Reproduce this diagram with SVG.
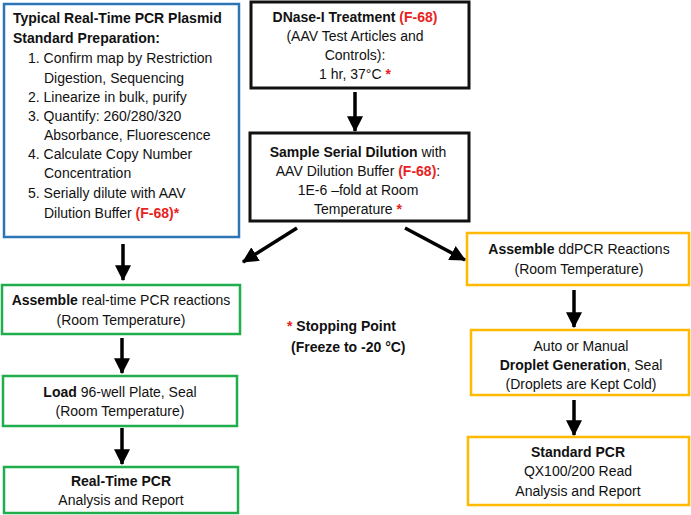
<svg xmlns="http://www.w3.org/2000/svg" width="691" height="515" viewBox="0 0 691 515">
<defs>
<style>
text{font-family:"Liberation Sans",Arial,sans-serif;font-size:14px;fill:#111}
.c{text-anchor:middle}
.b{font-weight:bold}
.r{fill:#E8231E;font-weight:bold}
.box{fill:#fff}
.blue{stroke:#2E75B6;stroke-width:2.5}
.blk{stroke:#111;stroke-width:3}
.grn{stroke:#1FAE4B;stroke-width:2.5}
.yel{stroke:#FFB900;stroke-width:2.5}
.arr{stroke:#000;stroke-width:3.5;fill:none;marker-end:url(#ah)}
</style>
<marker id="ah" markerUnits="userSpaceOnUse" markerWidth="16" markerHeight="16" refX="13" refY="7" orient="auto" viewBox="0 0 14 14">
<path d="M0,0 L14,7 L0,14 Z" fill="#000"/>
</marker>
</defs>
<rect width="691" height="515" fill="#fff"/>

<g id="connectors">
<line class="arr" x1="355" y1="92" x2="355" y2="131"/>
<line class="arr" x1="123" y1="244" x2="123" y2="280"/>
<line class="arr" x1="122" y1="338" x2="122" y2="373"/>
<line class="arr" x1="122" y1="428" x2="122" y2="464"/>
<line class="arr" x1="297" y1="228" x2="243" y2="262"/>
<line class="arr" x1="405" y1="228" x2="465" y2="260"/>
<line class="arr" x1="574" y1="290" x2="574" y2="327"/>
<line class="arr" x1="574" y1="400" x2="574" y2="435"/>
</g>

<g id="plasmid">
<rect class="box blue" x="4" y="4" width="235" height="233"/>
<text class="b" x="13" y="23">Typical Real-Time PCR Plasmid</text>
<text class="b" x="13" y="43">Standard Preparation:</text>
<text x="28" y="63">1. Confirm map by Restriction</text>
<text x="44" y="83">Digestion, Sequencing</text>
<text x="28" y="102">2. Linearize in bulk, purify</text>
<text x="28" y="121">3. Quantify: 260/280/320</text>
<text x="44" y="140">Absorbance, Fluorescence</text>
<text x="28" y="159">4. Calculate Copy Number</text>
<text x="44" y="178">Concentration</text>
<text x="28" y="198">5. Serially dilute with AAV</text>
<text x="44" y="218">Dilution Buffer <tspan class="r">(F-68)*</tspan></text>
</g>

<g id="dnase">
<rect class="box blk" x="251" y="2" width="218" height="86"/>
<text class="c" x="355" y="22"><tspan class="b">DNase-I Treatment</tspan> <tspan class="r">(F-68)</tspan></text>
<text class="c" x="355" y="41">(AAV Test Articles and</text>
<text class="c" x="355" y="60">Controls):</text>
<text class="c" x="355" y="79">1 hr, 37°C <tspan class="r">*</tspan></text>
</g>

<g id="dilution">
<rect class="box blk" x="250" y="133" width="219" height="88"/>
<text class="c" x="358" y="157"><tspan class="b">Sample Serial Dilution</tspan> with</text>
<text class="c" x="358" y="176">AAV Dilution Buffer <tspan class="r">(F-68)</tspan>:</text>
<text class="c" x="358" y="195">1E-6 –fold at Room</text>
<text class="c" x="358" y="214">Temperature <tspan class="r">*</tspan></text>
</g>

<g id="assemble-rt">
<rect class="box grn" x="2" y="285" width="238" height="49"/>
<text class="c" x="121" y="305"><tspan class="b">Assemble</tspan> real-time PCR reactions</text>
<text class="c" x="121" y="325">(Room Temperature)</text>
</g>

<g id="load">
<rect class="box grn" x="3" y="376" width="234" height="50"/>
<text class="c" x="120" y="397"><tspan class="b">Load</tspan> 96-well Plate, Seal</text>
<text class="c" x="120" y="416">(Room Temperature)</text>
</g>

<g id="realtime">
<rect class="box grn" x="4" y="467" width="234" height="46"/>
<text class="c b" x="121" y="486">Real-Time PCR</text>
<text class="c" x="121" y="505">Analysis and Report</text>
</g>

<g id="stopping">
<text x="287" y="331"><tspan class="r">*</tspan> <tspan class="b">Stopping Point</tspan></text>
<text class="b" x="291" y="352">(Freeze to -20 °C)</text>
</g>

<g id="assemble-dd">
<rect class="box yel" x="467" y="233" width="222" height="52"/>
<text class="c" x="579" y="254"><tspan class="b">Assemble</tspan> ddPCR Reactions</text>
<text class="c" x="579" y="274">(Room Temperature)</text>
</g>

<g id="droplet">
<rect class="box yel" x="471" y="330" width="218" height="65"/>
<text class="c" x="581" y="351">Auto or Manual</text>
<text class="c" x="581" y="370"><tspan class="b">Droplet Generation</tspan>, Seal</text>
<text class="c" x="581" y="389">(Droplets are Kept Cold)</text>
</g>

<g id="standard">
<rect class="box yel" x="468" y="437" width="221" height="68"/>
<text class="c b" x="578" y="457">Standard PCR</text>
<text class="c" x="578" y="476">QX100/200 Read</text>
<text class="c" x="578" y="496">Analysis and Report</text>
</g>
</svg>
